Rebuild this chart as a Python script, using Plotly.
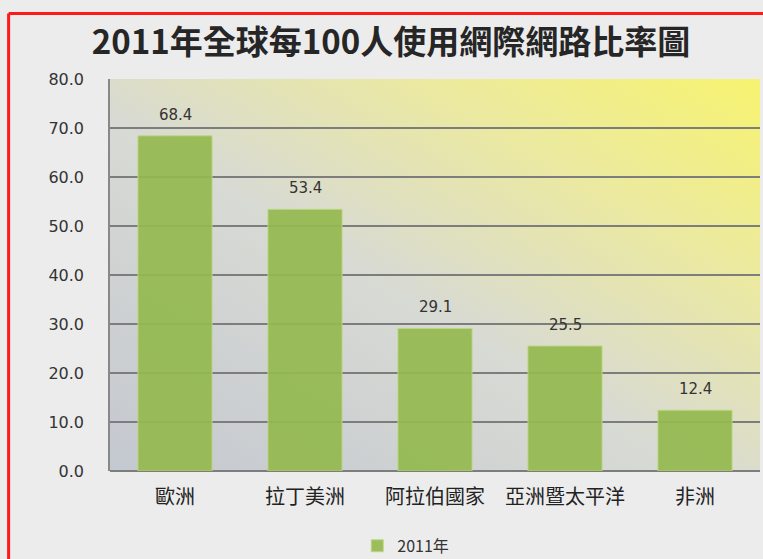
import base64
import plotly.graph_objects as go

categories = ["歐洲", "拉丁美洲", "阿拉伯國家", "亞洲暨太平洋", "非洲"]
values_2011 = [68.4, 53.4, 29.1, 25.5, 12.4]
series_name = "2011年"
title_text = "2011年全球每100人使用網際網路比率圖"
y_ticks = [0, 10, 20, 30, 40, 50, 60, 70, 80]

FONT = "Noto Sans CJK TC"
NUMFONT = "DejaVu Sans"

svg = """<svg xmlns='http://www.w3.org/2000/svg' width='650' height='392' viewBox='0 0 650 392' preserveAspectRatio='none'>
<defs><linearGradient id='g' x1='0' y1='1' x2='1' y2='0'>
<stop offset='0' stop-color='#c4c8d0'/>
<stop offset='0.45' stop-color='#d8dad4'/>
<stop offset='0.75' stop-color='#ecea9e'/>
<stop offset='1' stop-color='#f7f370'/>
</linearGradient></defs>
<rect width='650' height='392' fill='url(#g)'/></svg>"""
img_src = "data:image/svg+xml;base64," + base64.b64encode(svg.encode()).decode()

W, H = 763, 559
L, R, T, B = 110, 3, 79, 88

fig = go.Figure()
fig.add_trace(go.Bar(
    x=categories, y=values_2011, name=series_name,
    marker=dict(color="rgba(148,184,78,0.92)", line=dict(color="rgba(190,215,130,0.9)", width=1)),
    width=0.57,
))

annotations = [
    dict(x=c, y=v, xref="x", yref="y", text=f"{v:.1f}", showarrow=False,
         yanchor="bottom", yshift=10, font=dict(family=NUMFONT, size=15, color="#333333"))
    for c, v in zip(categories, values_2011)
]

fig.update_layout(
    width=W, height=H,
    margin=dict(l=L, r=R, t=T, b=B, autoexpand=False),
    paper_bgcolor="#ececec",
    plot_bgcolor="rgba(0,0,0,0)",
    title=dict(text=title_text, x=391 / W, xanchor="center", y=1 - 42 / H, yanchor="middle",
               font=dict(family=FONT, size=33, color="#262626", weight="bold")),
    showlegend=True,
    legend=dict(orientation="h", x=0.455, xanchor="center", y=-0.191, yanchor="middle",
                font=dict(family=FONT, size=16, color="#333333"), bgcolor="rgba(0,0,0,0)",
                itemwidth=30),
    annotations=annotations,
    images=[dict(source=img_src, xref="paper", yref="paper", x=0, y=1, sizex=1, sizey=1,
                 sizing="stretch", layer="below", xanchor="left", yanchor="top")],
    shapes=[
        dict(type="line", xref="paper", yref="paper", x0=-0.156, x1=-0.156, y0=-0.3, y1=1.167,
             line=dict(color="#ff1a1a", width=3)),
        dict(type="line", xref="paper", yref="paper", x0=-0.156, x1=1.1, y0=1.167, y1=1.167,
             line=dict(color="#ff1a1a", width=3)),
    ],
)
fig.update_xaxes(showgrid=False, showline=False, ticks="",
                 tickfont=dict(family=FONT, size=20, color="#222222"), ticklabelstandoff=12)
fig.update_yaxes(range=[0, 80], tickvals=y_ticks, tickformat=".1f",
                 showgrid=True, gridcolor="#7d7d7d", gridwidth=1.5,
                 showline=True, linecolor="#888888", linewidth=1.5,
                 zeroline=True, zerolinecolor="#7d7d7d", zerolinewidth=1.5,
                 tickfont=dict(family=NUMFONT, size=16, color="#333333"),
                 ticks="", ticklabelstandoff=21)

fig.write_html("out.html", config={"displayModeBar": False},
               post_script="document.body.style.margin='0';document.body.style.overflow='hidden';")
